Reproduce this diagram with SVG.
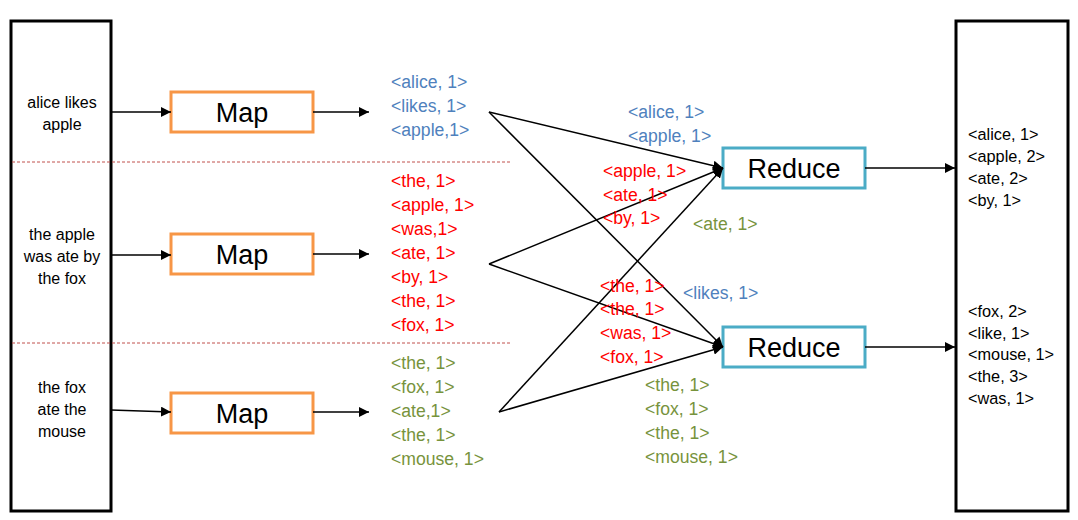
<svg xmlns="http://www.w3.org/2000/svg" width="1078" height="520" viewBox="0 0 1078 520">
<defs>
<marker id="ah" viewBox="0 0 10 10" refX="10" refY="5" markerWidth="10" markerHeight="10" markerUnits="userSpaceOnUse" orient="auto">
<path d="M0,0 L10,5 L0,10 z" fill="#000"/>
</marker>
</defs>
<style>
text{font-family:"Liberation Sans",Arial,sans-serif}
.frame{fill:#fff;stroke:#000;stroke-width:3}
.map{fill:#fff;stroke:#F79646;stroke-width:3}
.red{fill:#fff;stroke:#4BACC6;stroke-width:3}
.big{font-size:27px;fill:#000;text-anchor:middle}
.in{font-size:16px;fill:#000;text-anchor:middle}
.out{font-size:16.3px;fill:#000}
.b{font-size:17.6px;fill:#4F81BD}
.r{font-size:17.6px;fill:#FF0000}
.g{font-size:17.6px;fill:#77933C}
.c{stroke:#000;stroke-width:1.5;fill:none}
.a{stroke:#000;stroke-width:1.5;fill:none;marker-end:url(#ah)}
.dash{stroke:#C0504D;stroke-width:1;stroke-dasharray:3 2}
</style>
<rect width="1078" height="520" fill="#fff"/>

<g id="input">
<rect class="frame" x="11" y="21" width="100" height="490"/>
<text class="in" x="62" y="108">alice likes</text>
<text class="in" x="62" y="130">apple</text>
<text class="in" x="62" y="240">the apple</text>
<text class="in" x="62" y="262">was ate by</text>
<text class="in" x="62" y="284">the fox</text>
<text class="in" x="62" y="393">the fox</text>
<text class="in" x="62" y="415">ate the</text>
<text class="in" x="62" y="437">mouse</text>
</g>

<g id="output">
<rect class="frame" x="956" y="21" width="112" height="490"/>
<text class="out" x="968" y="140">&lt;alice, 1&gt;</text>
<text class="out" x="968" y="162">&lt;apple, 2&gt;</text>
<text class="out" x="968" y="184">&lt;ate, 2&gt;</text>
<text class="out" x="968" y="206">&lt;by, 1&gt;</text>
<text class="out" x="968" y="317">&lt;fox, 2&gt;</text>
<text class="out" x="968" y="339">&lt;like, 1&gt;</text>
<text class="out" x="968" y="360">&lt;mouse, 1&gt;</text>
<text class="out" x="968" y="382">&lt;the, 3&gt;</text>
<text class="out" x="968" y="404">&lt;was, 1&gt;</text>
</g>

<g id="separators">
<line class="dash" x1="12" y1="162" x2="512" y2="162"/>
<line class="dash" x1="12" y1="343" x2="512" y2="343"/>
</g>

<g id="map1">
<rect class="map" x="171" y="92" width="142" height="40"/>
<text class="big" x="242" y="122">Map</text>
</g>
<g id="map2">
<rect class="map" x="171" y="234" width="142" height="40"/>
<text class="big" x="242" y="264">Map</text>
</g>
<g id="map3">
<rect class="map" x="171" y="393" width="142" height="40"/>
<text class="big" x="242" y="423">Map</text>
</g>

<g id="reduce1">
<rect class="red" x="723" y="148" width="142" height="40"/>
<text class="big" x="794" y="178">Reduce</text>
</g>
<g id="reduce2">
<rect class="red" x="723" y="327" width="142" height="40"/>
<text class="big" x="794" y="357">Reduce</text>
</g>

<g id="map-output-1">
<text class="b" x="391" y="88">&lt;alice, 1&gt;</text>
<text class="b" x="391" y="112">&lt;likes, 1&gt;</text>
<text class="b" x="391" y="136">&lt;apple,1&gt;</text>
</g>
<g id="map-output-2">
<text class="r" x="391" y="187">&lt;the, 1&gt;</text>
<text class="r" x="391" y="211">&lt;apple, 1&gt;</text>
<text class="r" x="391" y="235">&lt;was,1&gt;</text>
<text class="r" x="391" y="259">&lt;ate, 1&gt;</text>
<text class="r" x="391" y="283">&lt;by, 1&gt;</text>
<text class="r" x="391" y="307">&lt;the, 1&gt;</text>
<text class="r" x="391" y="331">&lt;fox, 1&gt;</text>
</g>
<g id="map-output-3">
<text class="g" x="391" y="369">&lt;the, 1&gt;</text>
<text class="g" x="391" y="393">&lt;fox, 1&gt;</text>
<text class="g" x="391" y="417">&lt;ate,1&gt;</text>
<text class="g" x="391" y="441">&lt;the, 1&gt;</text>
<text class="g" x="391" y="465">&lt;mouse, 1&gt;</text>
</g>

<g id="connectors">
<line class="a" x1="111" y1="112" x2="171" y2="112"/>
<line class="a" x1="111" y1="255" x2="171" y2="255"/>
<line class="a" x1="111" y1="410" x2="171" y2="412"/>
<line class="a" x1="313" y1="112" x2="369" y2="112"/>
<line class="a" x1="313" y1="254" x2="369" y2="254"/>
<line class="a" x1="313" y1="412" x2="369" y2="412"/>
<line class="a" x1="489" y1="112" x2="723" y2="168"/>
<line class="a" x1="489" y1="112" x2="723" y2="347"/>
<line class="a" x1="489" y1="264" x2="723" y2="168"/>
<line class="a" x1="489" y1="264" x2="723" y2="347"/>
<line class="a" x1="499" y1="412" x2="723" y2="168"/>
<line class="a" x1="499" y1="412" x2="723" y2="347"/>
<line class="a" x1="865" y1="168" x2="955" y2="168"/>
<line class="a" x1="865" y1="347" x2="955" y2="347"/>
</g>

<g id="shuffle-labels">
<text class="b" x="628" y="118">&lt;alice, 1&gt;</text>
<text class="b" x="628" y="142">&lt;apple, 1&gt;</text>
<text class="r" x="603" y="177">&lt;apple, 1&gt;</text>
<text class="r" x="603" y="201">&lt;ate, 1&gt;</text>
<text class="r" x="603" y="224">&lt;by, 1&gt;</text>
<text class="g" x="693" y="230">&lt;ate, 1&gt;</text>
<text class="r" x="600" y="292">&lt;the, 1&gt;</text>
<text class="r" x="600" y="315">&lt;the, 1&gt;</text>
<text class="r" x="600" y="339">&lt;was, 1&gt;</text>
<text class="r" x="600" y="363">&lt;fox, 1&gt;</text>
<text class="b" x="683" y="299">&lt;likes, 1&gt;</text>
<text class="g" x="645" y="391">&lt;the, 1&gt;</text>
<text class="g" x="645" y="415">&lt;fox, 1&gt;</text>
<text class="g" x="645" y="439">&lt;the, 1&gt;</text>
<text class="g" x="645" y="463">&lt;mouse, 1&gt;</text>
</g>
</svg>
